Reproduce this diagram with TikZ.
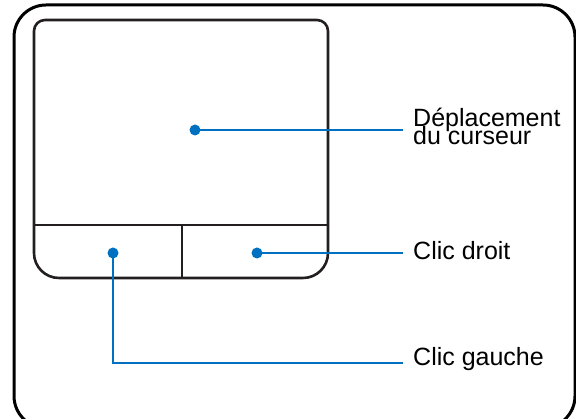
\documentclass[tikz,border=0pt]{standalone}
\usepackage{fontspec}
\setmainfont{Liberation Sans}
\usepackage{tikz}
\usetikzlibrary{positioning,calc}
\definecolor{padblue}{RGB}{0,112,192}
\definecolor{padgray}{RGB}{35,31,32}
\newcommand\tagfont{\fontsize{25}{18.5}\selectfont\lineskiplimit=-20pt\relax}
\tikzset{
  caseframe/.style = {draw=black, line width=3pt, rounded corners=32pt},
  padline/.style   = {draw=padgray, line width=2.6pt, line join=round},
  split/.style     = {draw=padgray, line width=2pt},
  spot/.style      = {fill=padblue, circle, inner sep=0pt, minimum size=11pt},
  lead/.style      = {draw=padblue, line width=2.4pt},
  tag/.style       = {font=\tagfont, anchor=west, inner xsep=10pt,
                      inner ysep=0pt, align=left},
}
\begin{document}
\begin{tikzpicture}[x=1pt, y=1pt]
\useasboundingbox (0,0) rectangle (576,419);
% outer case
\draw[caseframe] (14,-9) rectangle (575,414);
% touchpad
\draw[padline] (34,200) -- (34,388) arc[start angle=180, end angle=90, radius=11]
  -- (317,399) arc[start angle=90, end angle=0, radius=11]
  -- (328,166) arc[start angle=0, end angle=-90, radius=25]
  -- (59,141) arc[start angle=270, end angle=180, radius=25] -- cycle;
\draw[split] (34,194) -- (328,194);
\draw[split] (182,194) -- (182,141);
% spots
\node[spot] (move)   at (195,289) {};
\node[spot] (lclick) at (113,166) {};
\node[spot] (rclick) at (257,166) {};
% labels
\node[tag, text height=30pt, text depth=0pt] (tmove) at (403,289) {Déplacement\\du curseur};
\node[tag, text height=17pt, text depth=3pt]  (tright) at (403,166) {Clic droit};
\node[tag, text height=17pt, text depth=11pt] (tleft)  at (403,56)  {Clic gauche};
\coordinate (bend) at (113,56);
\foreach \a/\b in {move/tmove, rclick/tright}
  \draw[lead] (\a.center) -- (\b.west);
\draw[lead] (lclick.center) -- (bend) -- (tleft.west);
\end{tikzpicture}
\end{document}
